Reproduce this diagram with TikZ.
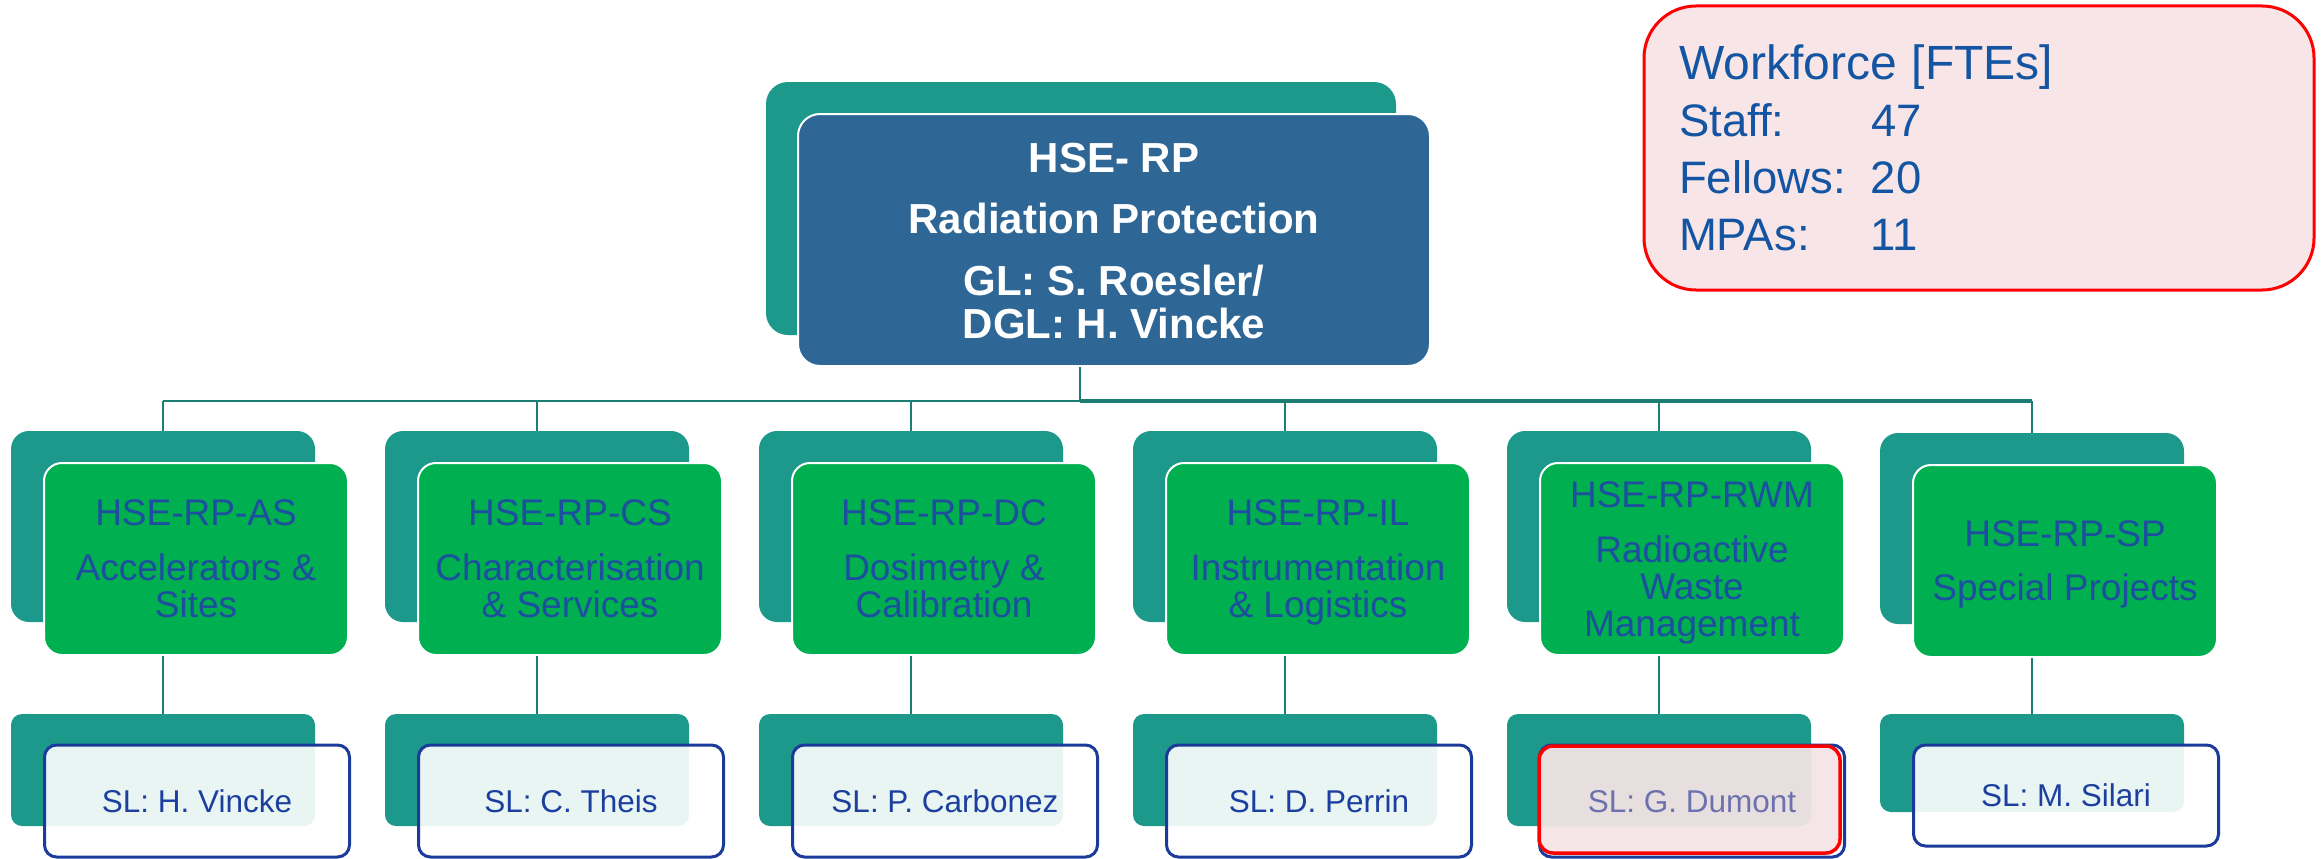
\documentclass[tikz,border=0pt]{standalone}
\usepackage{fontspec}
\setmainfont{Liberation Sans}
\definecolor{cteal}{HTML}{1D998B}
\definecolor{cblue}{HTML}{2E6795}
\definecolor{cgreen}{HTML}{00AF50}
\definecolor{cgtext}{HTML}{1D4EA0}
\definecolor{cstext}{HTML}{1C3F9F}
\definecolor{cborder}{HTML}{1B3B9B}
\definecolor{cline}{HTML}{1C7D72}
\definecolor{cpink}{HTML}{F8E5E7}
\definecolor{cwf}{HTML}{1355A2}
\definecolor{coverlay}{HTML}{E6BFC2}
\newcommand\topfont{\fontsize{42}{43}\selectfont\bfseries\lineskiplimit=-100pt}
\newcommand\midfont{\fontsize{37}{37}\selectfont\lineskiplimit=-100pt}
\newcommand\lowfont{\fontsize{31.5}{34}\selectfont}
\newcommand\wffont{\fontsize{45.5}{57}\selectfont\lineskiplimit=-100pt}
\begin{document}
\begin{tikzpicture}[x=1pt,y=-1pt,
  backtop/.style={fill=cteal, rounded corners=22pt, minimum width=630pt, minimum height=253pt, inner sep=0pt},
  fronttop/.style={fill=cblue, draw=white, line width=2pt, rounded corners=22pt, minimum width=632pt, minimum height=252pt, inner sep=0pt, text=white, font=\topfont, align=center},
  backmid/.style={fill=cteal, rounded corners=18pt, minimum width=304pt, minimum height=191pt, inner sep=0pt},
  frontmid/.style={fill=cgreen, draw=white, line width=2pt, rounded corners=18pt, minimum width=304pt, minimum height=192pt, inner sep=0pt, text=cgtext, font=\midfont, align=center},
  backlow/.style={fill=cteal, rounded corners=11pt, minimum width=304pt, minimum height=112pt, inner sep=0pt},
  frontlow/.style={fill=white, fill opacity=0.9, text opacity=1, draw=cborder, draw opacity=1, line width=3pt, rounded corners=12pt, minimum width=305pt, minimum height=112pt, inner sep=0pt, text=cstext, font=\lowfont, text height=22.5pt, text depth=0pt},
  redover/.style={fill=coverlay, fill opacity=0.4, draw=red, draw opacity=1, line width=3.5pt, rounded corners=14pt, minimum width=301pt, minimum height=107pt, inner sep=0pt},
  wfbox/.style={fill=cpink, draw=red, line width=3pt, rounded corners=52pt, minimum width=670pt, minimum height=284pt, text width=600pt, inner xsep=35pt, inner ysep=0pt, align=left, text=cwf, font=\wffont},
  conn/.style={draw=cline, line width=2.5pt}]
\useasboundingbox (0,0) rectangle (2323,859);

% top unit
\node[backtop] (topback) at (1081,208.5) {};
\node[fronttop] (top) at (1114,240) {\rule{0pt}{36pt}HSE- RP\\[18pt]Radiation Protection\\[19pt]GL: S. Roesler/\\DGL: H. Vincke\rule[-6pt]{0pt}{6pt}};

% workforce
\node[wfbox] (wf) at (1979,148) {\rule{0pt}{38pt}{\fontsize{48}{57}\selectfont Workforce [FTEs]}\\ \makebox[192pt][l]{Staff:}47\\ \makebox[192pt][l]{Fellows:}20\\ \makebox[192pt][l]{MPAs:}11\rule[-3pt]{0pt}{3pt}};

% second level back boxes
\node[backmid] (mb1) at (163,526.5) {};
\node[backmid] (mb2) at (537,526.5) {};
\node[backmid] (mb3) at (911,526.5) {};
\node[backmid] (mb4) at (1285,526.5) {};
\node[backmid] (mb5) at (1659,526.5) {};
\node[backmid] (mb6) at (2032,528.5) {};

% third level back boxes
\node[backlow] (lb1) at (163,770) {};
\node[backlow] (lb2) at (537,770) {};
\node[backlow] (lb3) at (911,770) {};
\node[backlow] (lb4) at (1285,770) {};
\node[backlow] (lb5) at (1659,770) {};
\node[backlow, minimum height=98pt] (lb6) at (2032,763) {};

% connectors
\coordinate (bus) at (1080,401);
\draw[conn] (bus |- top.south) -- (bus);
\draw[conn] (mb1.north |- bus) -- (bus);
\draw[conn, line width=3.5pt] (bus) -- (mb6.north |- bus);
\foreach \i in {1,...,6}{
  \draw[conn] (mb\i.north |- bus) -- (mb\i.north);
}

% second level front boxes
\node[frontmid] (mf1) at (196,559) {\rule{0pt}{35pt}HSE-RP-AS\\[18pt]Accelerators \&\\Sites\rule[-10pt]{0pt}{10pt}};
\node[frontmid] (mf2) at (570,559) {\rule{0pt}{35pt}HSE-RP-CS\\[18pt]Characterisation\\\& Services\rule[-10pt]{0pt}{10pt}};
\node[frontmid] (mf3) at (944,559) {\rule{0pt}{35pt}HSE-RP-DC\\[18pt]Dosimetry \&\\Calibration\rule[-10pt]{0pt}{10pt}};
\node[frontmid] (mf4) at (1318,559) {\rule{0pt}{35pt}HSE-RP-IL\\[18pt]Instrumentation\\\& Logistics\rule[-10pt]{0pt}{10pt}};
\node[frontmid] (mf5) at (1692,559) {\rule{0pt}{35pt}HSE-RP-RWM\\[18pt]Radioactive\\Waste\\Management\rule[-10pt]{0pt}{10pt}};
\node[frontmid] (mf6) at (2065,561) {\rule{0pt}{35pt}HSE-RP-SP\\[17pt]Special Projects\rule[-10pt]{0pt}{10pt}};

\foreach \i in {1,...,6}{
  \draw[conn] (mf\i.south -| mb\i.north) -- (lb\i.north);
}

% third level front boxes
\node[frontlow] (lf1) at (197,801) {SL: H. Vincke};
\node[frontlow] (lf2) at (571,801) {SL: C. Theis};
\node[frontlow] (lf3) at (945,801) {SL: P. Carbonez};
\node[frontlow] (lf4) at (1319,801) {SL: D. Perrin};
\node[frontlow] (lf5) at (1692,801) {SL: G. Dumont};
\node[frontlow, minimum height=101pt] (lf6) at (2066,795.5) {SL: M. Silari};
\node[redover] (rwmred) at (1689.5,799.5) {};
\end{tikzpicture}
\end{document}
